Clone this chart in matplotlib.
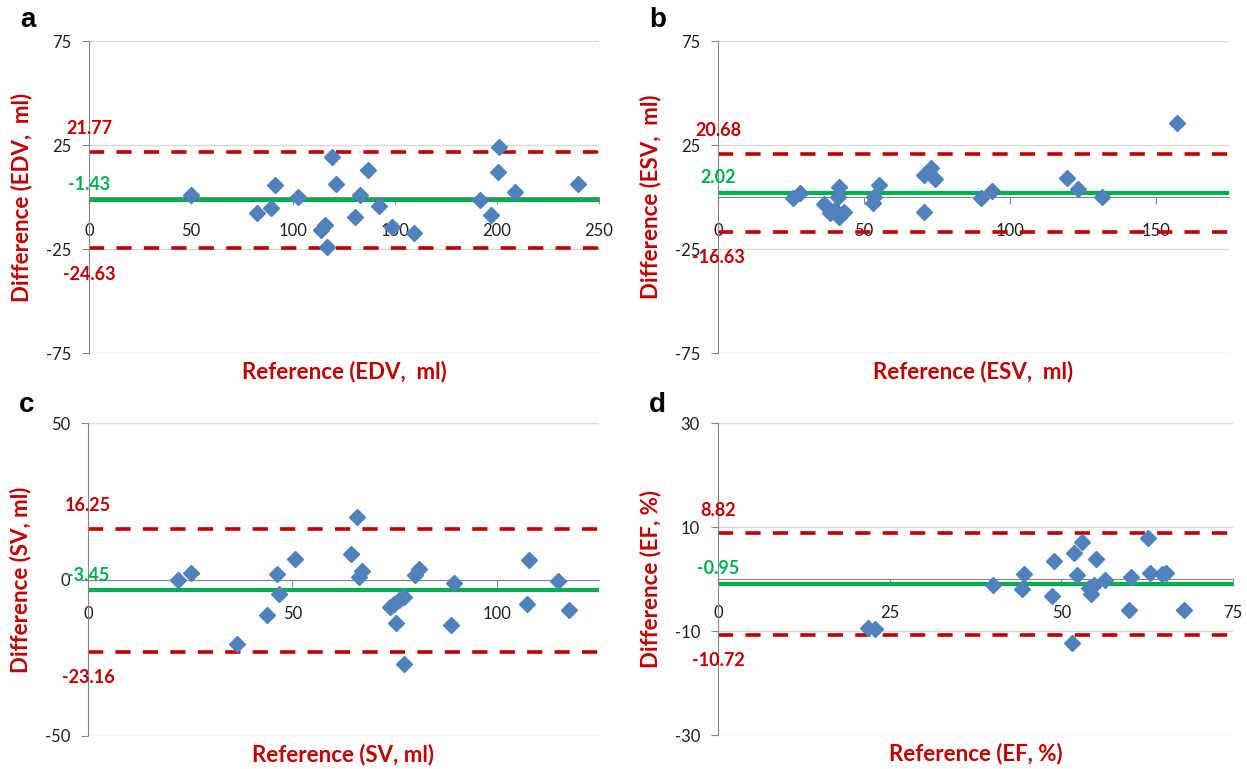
# Bland-Altman plots: EDV, ESV, SV, EF
import numpy as np
import matplotlib.pyplot as plt

plt.rcParams['font.family'] = ['Lato', 'DejaVu Sans']
plt.rcParams['axes.unicode_minus'] = False

RED = '#C00000'
GREEN = '#00B050'
BLUE = '#4F81BD'
GREY = '#868686'

# a) EDV
edv_x = [50.0, 82.2, 89.2, 91.3, 102.6, 113.6, 115.7, 116.8, 119.3, 120.9, 130.4,
         132.8, 136.9, 142.3, 148.4, 159.3, 191.7, 197.1, 200.3, 201.1, 209.0, 239.7]
edv_y = [1.0, -7.9, -5.4, 5.8, -0.2, -15.9, -13.5, -23.9, 19.4, 6.2, -9.8,
         1.0, 13.0, -4.2, -14.3, -17.2, -1.4, -8.7, 12.2, 24.2, 2.5, 6.2]
edv_stats = [21.77, -1.43, -24.63]

# b) ESV
esv_x = [25.7, 28.0, 36.2, 38.2, 41.6, 41.0, 40.0, 41.6, 43.3, 53.1, 53.4,
         55.1, 70.4, 70.7, 73.0, 74.2, 90.0, 93.9, 119.6, 123.2, 131.6, 157.3]
esv_y = [-0.6, 1.8, -3.4, -7.8, 5.0, 0.2, -6.2, -9.5, -7.1, -3.0, 0.2,
         5.8, -7.1, 10.6, 14.1, 8.5, -0.6, 3.0, 9.3, 3.7, 0.2, 35.4]
esv_stats = [20.68, 2.02, -16.63]

# c) SV
sv_x = [21.9, 25.1, 36.4, 43.7, 46.2, 46.8, 50.7, 64.4, 65.9, 66.2, 67.0, 73.9,
        74.8, 76.0, 77.2, 75.4, 77.2, 80.1, 80.9, 89.5, 88.8, 107.8, 107.4, 115.0, 117.6]
sv_y = [-0.2, 2.2, -20.7, -11.2, 1.9, -4.5, 6.6, 8.1, 20.0, 0.8, 2.6, -8.7,
        -7.7, -6.6, -5.6, -14.0, -27.0, 1.4, 3.3, -1.1, -14.4, 6.2, -7.9, -0.4, -9.8]
sv_stats = [16.25, -3.45, -23.16]

# d) EF
ef_x = [21.8, 22.8, 40.1, 44.2, 44.5, 48.7, 49.0, 51.6, 51.8, 52.3, 53.0, 54.0,
        54.3, 54.8, 55.1, 56.3, 59.8, 60.1, 62.6, 62.9, 64.7, 65.3, 67.8]
ef_y = [-9.4, -9.65, -1.2, -2.0, 0.9, -3.3, 3.4, -12.3, 5.0, 0.7, 7.1, -1.8,
        -2.8, -1.2, 3.8, -0.2, -6.0, 0.4, 7.9, 1.1, 0.9, 1.2, -5.9]
ef_stats = [8.82, -0.95, -10.72]

panels = [
    ('a', edv_x, edv_y, edv_stats, 'Difference (EDV,  ml)', 'Reference (EDV,  ml)',
     (0, 250, 50), (-75, 75, 50), [89, 41, 599, 353]),
    ('b', esv_x, esv_y, esv_stats, 'Difference (ESV,  ml)', 'Reference (ESV,  ml)',
     (0, 175, 50), (-75, 75, 50), [718, 41, 1229, 353]),
    ('c', sv_x, sv_y, sv_stats, 'Difference (SV, ml)', 'Reference (SV, ml)',
     (0, 125, 50), (-50, 50, 50), [88, 423, 599, 736]),
    ('d', ef_x, ef_y, ef_stats, 'Difference (EF, %)', 'Reference (EF, %)',
     (0, 75, 25), (-30, 30, 20), [718, 423, 1233, 735]),
]

W, H = 1247, 769
fig = plt.figure(figsize=(W / 100, H / 100), dpi=100)

for letter, xs, ys, stats, ylab, xlab, xr, yr, box in panels:
    l, t, r, b = box
    ax = fig.add_axes([l / W, 1 - b / H, (r - l) / W, (b - t) / H])
    ax.set_xlim(xr[0], xr[1])
    ax.set_ylim(yr[0], yr[1])
    ax.set_xticks(np.arange(xr[0], xr[1] + 1, xr[2]))
    ax.set_yticks(np.arange(yr[0], yr[1] + 1, yr[2]))
    ax.grid(axis='y', color='#D9D9D9', lw=1)
    ax.set_axisbelow(True)

    for s in ['top', 'right']:
        ax.spines[s].set_visible(False)
    ax.spines['left'].set_color(GREY)
    ax.spines['bottom'].set_color(GREY)
    ax.spines['bottom'].set_position(('data', 0))
    ax.tick_params(axis='both', colors=GREY, labelcolor='#202020', labelsize=12, length=5)
    ax.tick_params(axis='y', pad=8)
    ax.tick_params(axis='x', pad=14)

    upper, mean, lower = stats
    ax.axhline(upper, color=RED, lw=2.6, ls=(0, (4.2, 3.4)))
    ax.axhline(lower, color=RED, lw=2.6, ls=(0, (4.2, 3.4)))
    ax.axhline(mean, color=GREEN, lw=3)
    ax.plot(xs, ys, 'D', color=BLUE, ms=8.5, mec=BLUE, ls='none', zorder=5)

    # value labels at the left axis
    lab_kw = dict(xycoords='data', textcoords='offset pixels', ha='center',
                  va='center', fontsize=13, fontweight='bold', annotation_clip=False)
    ax.annotate(f'{upper:.2f}', (0, upper), xytext=(0, 23), color=RED, **lab_kw)
    ax.annotate(f'{mean:.2f}', (0, mean), xytext=(0, 15), color=GREEN, **lab_kw)
    ax.annotate(f'{lower:.2f}', (0, lower), xytext=(0, -26), color=RED, **lab_kw)

    ax.set_ylabel(ylab, color=RED, fontsize=16, fontweight='bold')
    ax.yaxis.set_label_coords(-57 / (r - l), 0.5)
    ax.set_xlabel(xlab, color=RED, fontsize=16, fontweight='bold')
    ax.xaxis.set_label_coords(0.5, -8 / (b - t))
    ax.xaxis.label.set_va('top')

    fig.text((l - 69) / W, 1 - 20 / H if letter in 'ab' else 1 - 405 / H, letter,
             fontsize=20, fontweight='bold', family='Liberation Sans',
             ha='left', va='center')

fig.savefig('out.png', dpi=100)
